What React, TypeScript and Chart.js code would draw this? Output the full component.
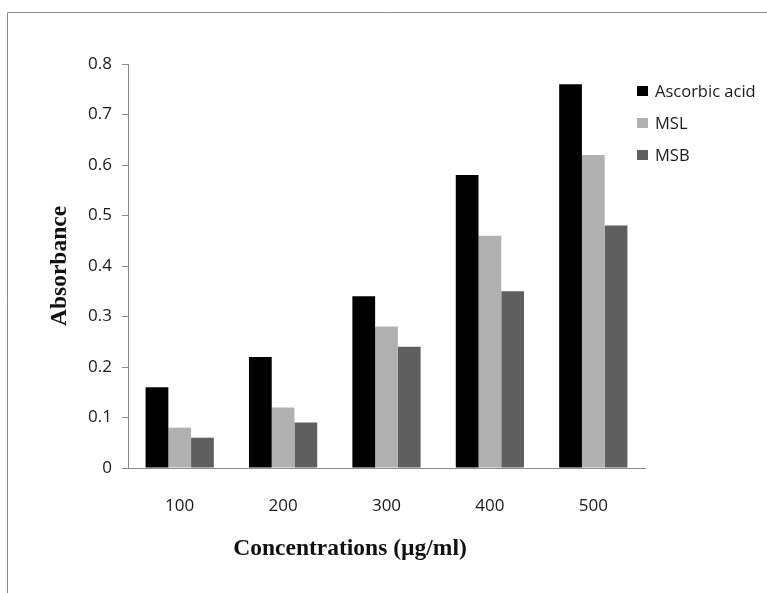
import React, { useEffect, useRef } from "react";
import { Chart, registerables } from "chart.js";

Chart.register(...registerables);

const categories = ["100", "200", "300", "400", "500"];
const seriesNames = ["Ascorbic acid", "MSL", "MSB"];
const ascorbicAcid = [0.16, 0.22, 0.34, 0.58, 0.76];
const msl = [0.08, 0.12, 0.28, 0.46, 0.62];
const msb = [0.06, 0.09, 0.24, 0.35, 0.48];
const seriesColors = ["#000000", "#b0b0b0", "#5f5f5f"];
const yTickLabels = ["0", "0.1", "0.2", "0.3", "0.4", "0.5", "0.6", "0.7", "0.8"];
const xTitle = "Concentrations (µg/ml)";
const yTitle = "Absorbance";

const framePlugin = {
  id: "frame",
  beforeDraw(chart: any) {
    const ctx = chart.ctx;
    ctx.save();
    ctx.fillStyle = "#ffffff";
    ctx.fillRect(0, 0, chart.width, chart.height);
    ctx.strokeStyle = "#8c8c8c";
    ctx.lineWidth = 1;
    ctx.beginPath();
    ctx.moveTo(7.5, chart.height);
    ctx.lineTo(7.5, 12.5);
    ctx.lineTo(chart.width, 12.5);
    ctx.stroke();
    ctx.restore();
  },
  afterDraw(chart: any) {
    const ctx = chart.ctx;
    ctx.save();
    // legend
    chart.data.datasets.forEach((ds: any, i: number) => {
      const cy = 91 + 32 * i;
      ctx.fillStyle = ds.backgroundColor;
      ctx.fillRect(637, cy - 5, 11, 10);
      ctx.fillStyle = "#1a1a1a";
      ctx.font = "16.5px 'Open Sans'";
      ctx.textBaseline = "middle";
      ctx.textAlign = "left";
      ctx.fillText(ds.label, 655, cy + 1);
    });
    // x axis title
    ctx.fillStyle = "#111111";
    ctx.font = "bold 23.5px 'Liberation Serif'";
    ctx.textAlign = "center";
    ctx.textBaseline = "middle";
    ctx.fillText(xTitle, 350, 549);
    ctx.restore();
  },
};

export default function App() {
  const ref = useRef<HTMLCanvasElement | null>(null);
  useEffect(() => {
    document.body.style.margin = "0";
    const canvas = ref.current;
    if (!canvas) return;
    const datasets = [ascorbicAcid, msl, msb].map((d, i) => ({
      label: seriesNames[i],
      data: d,
      backgroundColor: seriesColors[i],
      borderWidth: 0,
      categoryPercentage: 0.66,
      barPercentage: 1.0,
    }));
    const chart = new Chart(canvas, {
      type: "bar",
      data: { labels: categories, datasets },
      options: {
        animation: false,
        responsive: false,
        layout: { padding: { left: 0, right: 122, top: 64, bottom: 0 } },
        plugins: { legend: { display: false }, tooltip: { enabled: false } },
        scales: {
          x: {
            grid: { display: false },
            border: { display: true, color: "#8c8c8c", width: 1 },
            ticks: {
              color: "#1a1a1a",
              font: { family: "'Open Sans'", size: 17 },
              padding: 20,
              maxRotation: 0,
            },
            afterFit(scale: any) {
              scale.height = 125;
            },
          },
          y: {
            min: 0,
            max: 0.8,
            grid: {
              drawOnChartArea: false,
              drawTicks: true,
              tickLength: 6,
              color: "#8c8c8c",
            },
            border: { display: true, color: "#8c8c8c", width: 1 },
            ticks: {
              stepSize: 0.1,
              color: "#1a1a1a",
              font: { family: "'Open Sans'", size: 17 },
              padding: 10,
              callback: (_v: any, i: number) => yTickLabels[i],
            },
            title: {
              display: true,
              text: yTitle,
              color: "#111111",
              font: { family: "'Liberation Serif'", size: 23.5, weight: "bold" },
              padding: { top: 46, bottom: 0 },
            },
            afterFit(scale: any) {
              scale.width = 128;
            },
          },
        },
      },
      plugins: [framePlugin],
    } as any);
    return () => chart.destroy();
  }, []);
  return <canvas ref={ref} width={767} height={593} style={{ display: "block", width: 767, height: 593 }} />;
}
